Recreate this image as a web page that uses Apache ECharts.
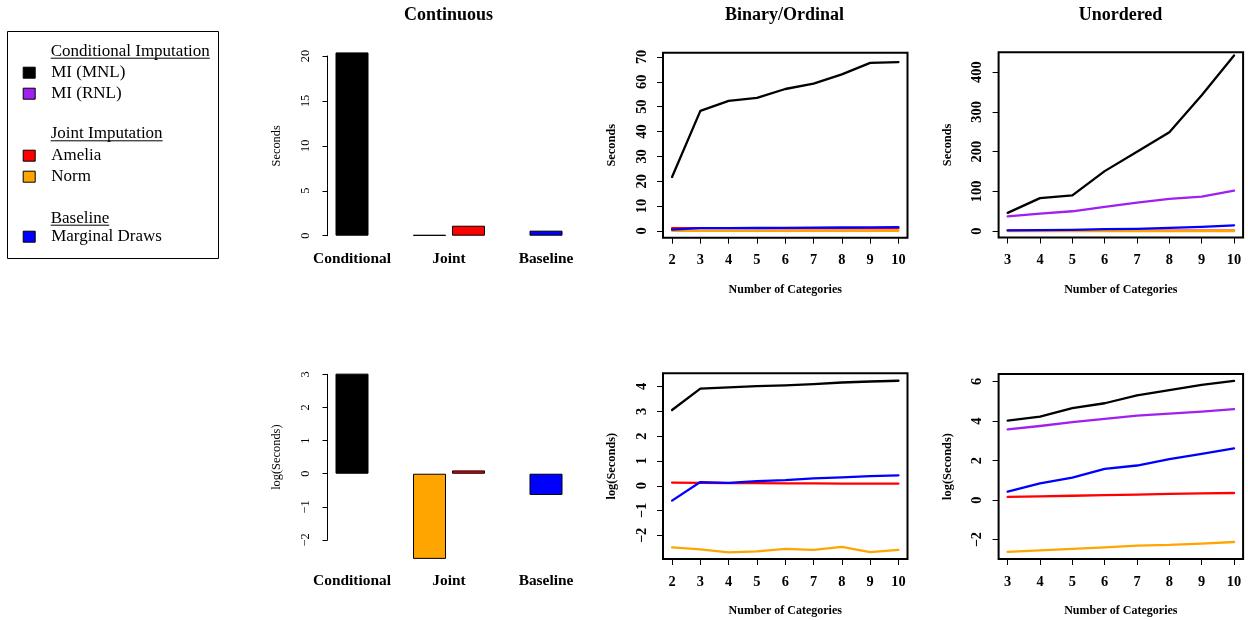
<!DOCTYPE html>
<html>
<head>
<meta charset="utf-8">
<script src="https://cdn.jsdelivr.net/npm/echarts@6/dist/echarts.min.js"></script>
<style>
  html, body { margin: 0; padding: 0; background: #ffffff; }
  #chart { width: 1248px; height: 620px; }
</style>
</head>
<body>
<div id="chart"></div>
<script>
// ---- data -------------------------------------------------------------
// Bar panels (continuous variables): one value per method group
const barGroups = ['Conditional', 'Joint', 'Baseline'];
const contSecMNL      = [20.4, null, null];
const contSecNorm     = [null, 0.08, null];
const contSecAmelia   = [null, 1.11, null];
const contSecMarginal = [null, null, 0.56];
const contLogMNL      = [3.02, null, null];
const contLogNorm     = [null, -2.57, null];
const contLogAmelia   = [null, 0.10, null];
const contLogMarginal = [null, null, -0.64];

// Binary / ordinal variables, by number of categories
const binaryCats = [2, 3, 4, 5, 6, 7, 8, 9, 10];
const binSecMNL      = [21.7, 48.3, 52.3, 53.5, 57.1, 59.3, 63.0, 67.6, 67.9];
const binSecAmelia   = [1.14, 1.13, 1.12, 1.12, 1.11, 1.10, 1.10, 1.09, 1.09];
const binSecNorm     = [0.08, 0.08, 0.07, 0.07, 0.08, 0.08, 0.09, 0.07, 0.08];
const binSecMarginal = [0.55, 1.16, 1.13, 1.21, 1.26, 1.35, 1.40, 1.48, 1.52];
const binLogMNL      = [3.05, 3.91, 3.96, 4.01, 4.04, 4.09, 4.16, 4.20, 4.23];
const binLogAmelia   = [0.13, 0.12, 0.11, 0.11, 0.10, 0.10, 0.09, 0.09, 0.09];
const binLogNorm     = [-2.48, -2.56, -2.68, -2.64, -2.54, -2.58, -2.46, -2.67, -2.58];
const binLogMarginal = [-0.60, 0.15, 0.12, 0.19, 0.23, 0.30, 0.34, 0.39, 0.42];

// Unordered variables, by number of categories
const unorderedCats = [3, 4, 5, 6, 7, 8, 9, 10];
const unoSecMNL      = [46, 83, 90, 151, 200, 249, 342, 442];
const unoSecRNL      = [37, 44, 50, 61, 72, 81, 87, 102];
const unoSecAmelia   = [1.20, 1.23, 1.27, 1.30, 1.34, 1.38, 1.42, 1.45];
const unoSecNorm     = [0.08, 0.08, 0.09, 0.10, 0.11, 0.11, 0.12, 0.13];
const unoSecMarginal = [2.0, 2.5, 3.2, 5.0, 5.9, 8.2, 10.7, 14.5];
const unoLogMNL      = [4.02, 4.22, 4.65, 4.90, 5.30, 5.56, 5.83, 6.03];
const unoLogRNL      = [3.58, 3.75, 3.94, 4.11, 4.27, 4.38, 4.48, 4.60];
const unoLogAmelia   = [0.16, 0.19, 0.22, 0.25, 0.28, 0.31, 0.34, 0.36];
const unoLogNorm     = [-2.62, -2.54, -2.47, -2.39, -2.30, -2.27, -2.20, -2.12];
const unoLogMarginal = [0.43, 0.85, 1.14, 1.58, 1.75, 2.07, 2.34, 2.62];

// Tick values
const contSecTicks = [0, 5, 10, 15, 20];
const contLogTicks = [-2, -1, 0, 1, 2, 3];
const binSecTicks  = [0, 10, 20, 30, 40, 50, 60, 70];
const binLogTicks  = [-2, -1, 0, 1, 2, 3, 4];
const unoSecTicks  = [0, 100, 200, 300, 400];
const unoLogTicks  = [-2, 0, 2, 4, 6];

// ---- styling ----------------------------------------------------------
const SERIF = "'Liberation Serif', 'Times New Roman', serif";
const COLORS = {
  'MI (MNL)': '#000000',
  'MI (RNL)': '#A020F0',
  'Amelia': '#FF0000',
  'Norm': '#FFA500',
  'Marginal Draws': '#0000FF'
};
const minus = v => String(v).replace('-', '\u2212');

// Bar panels: the y axis only spans the tick range, so it lives in its own
// narrow grid, while the bars sit in a wider grid sharing the same scale.
function barGridBox(axisTop, axisBottom, tickMin, tickMax, lo, hi) {
  const k = (axisBottom - axisTop) / (tickMax - tickMin);
  return { top: axisTop - (hi - tickMax) * k, height: (hi - lo) * k };
}
const contTopBox = barGridBox(56, 235.7, 0, 20, -1, 21.5);
const contBotBox = barGridBox(374.3, 540, -2, 3, -2.8, 3.2);

const grids = [
  { left: 327.5, width: 10, top: 56, height: 179.7 },                       // 0 axis, seconds
  { left: 303.5, width: 291, top: contTopBox.top, height: contTopBox.height }, // 1 bars, seconds
  { left: 327.5, width: 10, top: 374.3, height: 165.7 },                    // 2 axis, log
  { left: 303.5, width: 291, top: contBotBox.top, height: contBotBox.height }, // 3 bars, log
  { left: 663, width: 244.5, top: 52.7, height: 185 },                      // 4 binary seconds
  { left: 998.6, width: 244.5, top: 52.3, height: 185.2 },                  // 5 unordered seconds
  { left: 663, width: 244.5, top: 373.3, height: 185.7 },                   // 6 binary log
  { left: 998.6, width: 244.5, top: 374, height: 185 }                      // 7 unordered log
].map((g, i) => Object.assign({
  containLabel: false,
  show: i >= 4,
  borderColor: '#000',
  borderWidth: 2,
  backgroundColor: 'transparent'
}, g));

function hiddenValueX(gridIndex) {
  return { type: 'value', gridIndex, show: false, min: 0, max: 1 };
}
function catX(gridIndex, showLabels) {
  return {
    type: 'category', gridIndex, data: barGroups, show: true,
    axisLine: { show: false, onZero: false }, axisTick: { show: false },
    axisLabel: {
      show: showLabels, interval: 0, margin: 7, fontFamily: SERIF, fontWeight: 'bold',
      fontSize: 15.4, color: '#000'
    }
  };
}
function lineX(gridIndex, cats, min, max) {
  return {
    type: 'value', gridIndex, min, max,
    name: 'Number of Categories', nameLocation: 'middle', nameGap: 46,
    nameTextStyle: { fontFamily: SERIF, fontWeight: 'bold', fontSize: 12, color: '#000' },
    axisLine: { show: false, onZero: false },
    axisTick: { show: true, length: 6, customValues: cats, lineStyle: { color: '#000', width: 1 } },
    axisLabel: {
      customValues: cats, margin: 16, fontFamily: SERIF, fontWeight: 'bold',
      fontSize: 14.4, color: '#000'
    },
    splitLine: { show: false }
  };
}
function barAxisY(gridIndex, name, ticks) {
  return {
    type: 'value', gridIndex, min: ticks[0], max: ticks[ticks.length - 1],
    interval: ticks[1] - ticks[0],
    name, nameLocation: 'middle', nameGap: 45,
    nameTextStyle: { fontFamily: SERIF, fontSize: 12.4, color: '#000' },
    axisLine: { show: true, onZero: false, lineStyle: { color: '#000', width: 1 } },
    axisTick: { show: true, length: 5, lineStyle: { color: '#000', width: 1 } },
    axisLabel: {
      rotate: 90, margin: 16, fontFamily: SERIF, fontSize: 12.4, color: '#000',
      formatter: minus
    },
    splitLine: { show: false }
  };
}
function hiddenY(gridIndex, min, max) {
  return { type: 'value', gridIndex, min, max, show: false, splitLine: { show: false } };
}
function lineY(gridIndex, name, ticks, min, max) {
  return {
    type: 'value', gridIndex, min, max,
    name, nameLocation: 'middle', nameGap: 45,
    nameTextStyle: { fontFamily: SERIF, fontWeight: 'bold', fontSize: 12.4, color: '#000' },
    axisLine: { show: false, onZero: false },
    axisTick: { show: true, length: 6, customValues: ticks, lineStyle: { color: '#000', width: 1 } },
    axisLabel: {
      customValues: ticks, rotate: 90, margin: 14, fontFamily: SERIF, fontWeight: 'bold',
      fontSize: 14.4, color: '#000', formatter: minus
    },
    splitLine: { show: false }
  };
}

const xAxes = [
  hiddenValueX(0),                       // 0
  catX(1, true),                         // 1 single bars
  catX(1, false),                        // 2 paired bars
  hiddenValueX(2),                       // 3
  catX(3, true),                         // 4 single bars
  catX(3, false),                        // 5 paired bars
  lineX(4, binaryCats, 1.68, 10.32),     // 6
  lineX(5, unorderedCats, 2.72, 10.28),  // 7
  lineX(6, binaryCats, 1.68, 10.32),     // 8
  lineX(7, unorderedCats, 2.72, 10.28)   // 9
];
const yAxes = [
  barAxisY(0, 'Seconds', contSecTicks),            // 0
  hiddenY(1, -1, 21.5),                            // 1
  barAxisY(2, 'log(Seconds)', contLogTicks),       // 2
  hiddenY(3, -2.8, 3.2),                           // 3
  lineY(4, 'Seconds', binSecTicks, -2.7, 71.7),    // 4
  lineY(5, 'Seconds', unoSecTicks, -16, 450),      // 5
  lineY(6, 'log(Seconds)', binLogTicks, -2.95, 4.53), // 6
  lineY(7, 'log(Seconds)', unoLogTicks, -2.98, 6.38)  // 7
];

function bar(name, data, xi, yi, paired) {
  return {
    type: 'bar', name, data, xAxisIndex: xi, yAxisIndex: yi,
    barWidth: 33, barGap: paired ? '18%' : '-100%',
    itemStyle: { color: COLORS[name], borderColor: '#000', borderWidth: 1 },
    emphasis: { disabled: true }
  };
}
function line(name, cats, vals, axis) {
  return {
    type: 'line', name, xAxisIndex: axis, yAxisIndex: axis - 2,
    data: cats.map((c, i) => [c, vals[i]]),
    symbol: 'none', showSymbol: false,
    color: COLORS[name],
    lineStyle: { color: COLORS[name], width: 2.3, cap: 'round', join: 'round' },
    itemStyle: { color: COLORS[name] },
    emphasis: { disabled: true }
  };
}

const series = [
  bar('MI (MNL)', contSecMNL, 1, 1, false),
  bar('Marginal Draws', contSecMarginal, 1, 1, false),
  bar('Norm', contSecNorm, 2, 1, true),
  bar('Amelia', contSecAmelia, 2, 1, true),
  bar('MI (MNL)', contLogMNL, 4, 3, false),
  bar('Marginal Draws', contLogMarginal, 4, 3, false),
  bar('Norm', contLogNorm, 5, 3, true),
  bar('Amelia', contLogAmelia, 5, 3, true),

  line('MI (MNL)', binaryCats, binSecMNL, 6),
  line('Amelia', binaryCats, binSecAmelia, 6),
  line('Norm', binaryCats, binSecNorm, 6),
  line('Marginal Draws', binaryCats, binSecMarginal, 6),

  line('MI (MNL)', unorderedCats, unoSecMNL, 7),
  line('MI (RNL)', unorderedCats, unoSecRNL, 7),
  line('Amelia', unorderedCats, unoSecAmelia, 7),
  line('Norm', unorderedCats, unoSecNorm, 7),
  line('Marginal Draws', unorderedCats, unoSecMarginal, 7),

  line('MI (MNL)', binaryCats, binLogMNL, 8),
  line('Amelia', binaryCats, binLogAmelia, 8),
  line('Norm', binaryCats, binLogNorm, 8),
  line('Marginal Draws', binaryCats, binLogMarginal, 8),

  line('MI (MNL)', unorderedCats, unoLogMNL, 9),
  line('MI (RNL)', unorderedCats, unoLogRNL, 9),
  line('Amelia', unorderedCats, unoLogAmelia, 9),
  line('Norm', unorderedCats, unoLogNorm, 9),
  line('Marginal Draws', unorderedCats, unoLogMarginal, 9)
];

// ---- legend -----------------------------------------------------------
const LEGEND_FONT = 17;
function legendBlock(names, top) {
  return {
    orient: 'vertical', left: 22.7, top, padding: 0, itemGap: 0,
    itemWidth: 12, itemHeight: 11, icon: 'rect', selectedMode: false,
    data: names,
    itemStyle: { borderColor: '#000', borderWidth: 1 },
    textStyle: {
      fontFamily: SERIF, fontSize: LEGEND_FONT, color: '#000',
      lineHeight: 21, padding: [0, 0, 0, 11]
    }
  };
}
const legends = [
  legendBlock(['MI (MNL)', 'MI (RNL)'], 62.2),
  legendBlock(['Amelia', 'Norm'], 145.2),
  legendBlock(['Marginal Draws'], 226.2)
];

const measureCtx = document.createElement('canvas').getContext('2d');
function textWidth(str) {
  measureCtx.font = LEGEND_FONT + 'px ' + SERIF;
  return measureCtx.measureText(str).width;
}
function header(str, cy) {
  const w = textWidth(str);
  return [
    { type: 'text', left: 50.7, top: cy - LEGEND_FONT * 0.5 + 0.5,
      style: { text: str, font: LEGEND_FONT + 'px ' + SERIF, fill: '#000' } },
    { type: 'line', shape: { x1: 50.7, y1: cy + 7.5, x2: 50.7 + w, y2: cy + 7.5 },
      style: { stroke: '#000', lineWidth: 1 } }
  ];
}
const graphics = [
  { type: 'rect', shape: { x: 7.5, y: 31.5, width: 211, height: 227 },
    style: { fill: 'none', stroke: '#000', lineWidth: 1 } }
].concat(
  header('Conditional Imputation', 50.7),
  header('Joint Imputation', 133.3),
  header('Baseline', 217.7)
);

// ---- titles -----------------------------------------------------------
function colTitle(text, x) {
  return {
    text, left: x, top: 6, textAlign: 'center', padding: 0,
    textStyle: { fontFamily: SERIF, fontWeight: 'bold', fontSize: 18, color: '#000' }
  };
}

const chart = echarts.init(document.getElementById('chart'), null, { renderer: 'canvas' });
chart.setOption({
  animation: false,
  backgroundColor: '#ffffff',
  title: [
    colTitle('Continuous', 448.5),
    colTitle('Binary/Ordinal', 784.5),
    colTitle('Unordered', 1120.5)
  ],
  legend: legends,
  grid: grids,
  xAxis: xAxes,
  yAxis: yAxes,
  series,
  graphic: graphics
});
</script>
</body>
</html>
